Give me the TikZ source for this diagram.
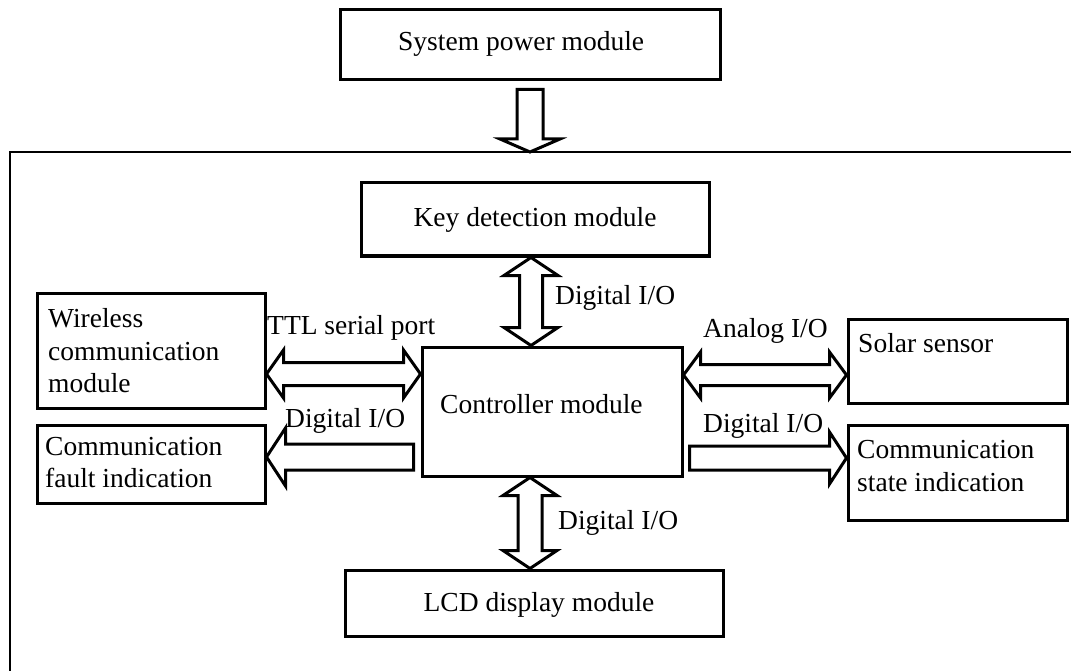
\documentclass[tikz,border=0pt]{standalone}
\usepackage{fontspec}
\setmainfont{Liberation Serif}
\usetikzlibrary{calc}
% double horizontal arrow: #1 left end, #2 right end, #3 shaft half width, #4 head half width, #5 head length
\newcommand{\dblH}[5]{\path[arr] let \p1=(#1), \p2=(#2) in
 (\x1,\y1) -- (\x1+#5pt,\y1+#4pt) -- (\x1+#5pt,\y1+#3pt) -- (\x2-#5pt,\y1+#3pt) -- (\x2-#5pt,\y1+#4pt)
 -- (\x2,\y1) -- (\x2-#5pt,\y1-#4pt) -- (\x2-#5pt,\y1-#3pt) -- (\x1+#5pt,\y1-#3pt) -- (\x1+#5pt,\y1-#4pt) -- cycle;}
% double vertical arrow: #1 upper end, #2 lower end
\newcommand{\dblV}[5]{\path[arr] let \p1=(#1), \p2=(#2) in
 (\x1,\y1) -- (\x1+#4pt,\y1-#5pt) -- (\x1+#3pt,\y1-#5pt) -- (\x1+#3pt,\y2+#5pt) -- (\x1+#4pt,\y2+#5pt)
 -- (\x1,\y2) -- (\x1-#4pt,\y2+#5pt) -- (\x1-#3pt,\y2+#5pt) -- (\x1-#3pt,\y1-#5pt) -- (\x1-#4pt,\y1-#5pt) -- cycle;}
% single arrow pointing left: #1 tip, #2 tail
\newcommand{\sglL}[5]{\path[arr] let \p1=(#1), \p2=(#2) in
 (\x1,\y1) -- (\x1+#5pt,\y1+#4pt) -- (\x1+#5pt,\y1+#3pt) -- (\x2,\y1+#3pt) -- (\x2,\y1-#3pt)
 -- (\x1+#5pt,\y1-#3pt) -- (\x1+#5pt,\y1-#4pt) -- cycle;}
% single arrow pointing right: #1 tail, #2 tip
\newcommand{\sglR}[5]{\path[arr] let \p1=(#1), \p2=(#2) in
 (\x2,\y2) -- (\x2-#5pt,\y2+#4pt) -- (\x2-#5pt,\y2+#3pt) -- (\x1,\y2+#3pt) -- (\x1,\y2-#3pt)
 -- (\x2-#5pt,\y2-#3pt) -- (\x2-#5pt,\y2-#4pt) -- cycle;}
% single arrow pointing down: #1 tail, #2 tip
\newcommand{\sglD}[5]{\path[arr] let \p1=(#1), \p2=(#2) in
 (\x2,\y2) -- (\x2+#4pt,\y2+#5pt) -- (\x2+#3pt,\y2+#5pt) -- (\x2+#3pt,\y1) -- (\x2-#3pt,\y1)
 -- (\x2-#3pt,\y2+#5pt) -- (\x2-#4pt,\y2+#5pt) -- cycle;}
\begin{document}
\begin{tikzpicture}[x=1pt,y=-1pt,
  box/.style={draw, line width=3pt, inner sep=0pt},
  txt/.style={inner sep=0pt, font=\fontsize{27.5}{33}\selectfont},
  arr/.style={draw, line width=3pt, line join=miter, fill=white},
  frame/.style={draw, line width=2pt}
]
\useasboundingbox[fill=white] (0,0) rectangle (1071,671);
% outer frame (open to the right and bottom)
\path[frame] (1071,152) -- (10,152) -- (10,671);
\coordinate (ftop) at (530,152);

% boxes
\node[box, minimum width=380, minimum height=70]  (pwr)  at (530,45)    {};
\node[box, minimum width=348, minimum height=73]  (key)  at (535,219.5) {};
\node[box, minimum width=260, minimum height=129] (ctrl) at (552,411.5) {};
\node[box, minimum width=378, minimum height=66]  (lcd)  at (534,603)   {};
\node[box, minimum width=228, minimum height=115] (wl)   at (151,350.5) {};
\node[box, minimum width=228, minimum height=78]  (cf)   at (151,464)   {};
\node[box, minimum width=219, minimum height=84]  (sol)  at (957.5,361) {};
\node[box, minimum width=219, minimum height=95]  (cs)   at (957.5,472.5) {};

% box texts
\node[txt, anchor=base west] (tpwr) at (398,51)  {System power module};
\node[txt, anchor=base]      (tkey) at (535,226) {Key detection module};
\node[txt, anchor=base west] (tctl) at (440,413) {Controller module};
\node[txt, anchor=base]      (tlcd) at (539,611) {LCD display module};
\node[txt, anchor=base west] (twl1) at (48,327)  {Wireless};
\node[txt, anchor=base west] (twl2) at (48,360)  {communication};
\node[txt, anchor=base west] (twl3) at (48,392)  {module};
\node[txt, anchor=base west] (tcf1) at (45,455)  {Communication};
\node[txt, anchor=base west] (tcf2) at (45,487)  {fault indication};
\node[txt, anchor=base west] (tsol) at (858,352) {Solar sensor};
\node[txt, anchor=base west] (tcs1) at (857,458) {Communication};
\node[txt, anchor=base west] (tcs2) at (857,491) {state indication};

% connector labels
\node[txt, anchor=base west] (lttl) at (267,334) {TTL serial port};
\node[txt, anchor=base west] (lana) at (703,337) {Analog I/O};
\node[txt, anchor=base west] (ldt)  at (555,304) {Digital I/O};
\node[txt, anchor=base west] (ldb)  at (558,529) {Digital I/O};
\node[txt, anchor=base west] (ldl)  at (285,427) {Digital I/O};
\node[txt, anchor=base west] (ldr)  at (703,432) {Digital I/O};

% connector end points
\coordinate (pA)   at ($(pwr.south)+(0,8)$);
\coordinate (kA)   at (key.south -| 531,0);
\coordinate (kB)   at (ctrl.north -| 531,0);
\coordinate (lA)   at (ctrl.south -| 530,0);
\coordinate (lB)   at (lcd.north -| 530,0);
\coordinate (ttlA) at (wl.east |- 0,374);
\coordinate (ttlB) at (ctrl.west |- 0,374);
\coordinate (anA)  at (ctrl.east |- 0,375);
\coordinate (anB)  at (sol.west |- 0,375);
\coordinate (dlA)  at (cf.east |- 0,457);
\coordinate (dlB)  at ($(ctrl.west |- 0,457)+(-7,0)$);
\coordinate (drA)  at ($(ctrl.east |- 0,458)+(6,0)$);
\coordinate (drB)  at (cs.west |- 0,458);

% connectors
\sglD{pA}{pA |- ftop}{13}{30}{13}
\dblV{kA}{kB}{11.5}{27}{18}
\dblV{lA}{lB}{12}{27}{18}
\dblH{ttlA}{ttlB}{11.5}{24}{17}
\dblH{anA}{anB}{10.5}{23}{17}
\sglL{dlA}{dlB}{13}{29}{19}
\sglR{drA}{drB}{12}{26}{17}
\end{tikzpicture}
\end{document}
